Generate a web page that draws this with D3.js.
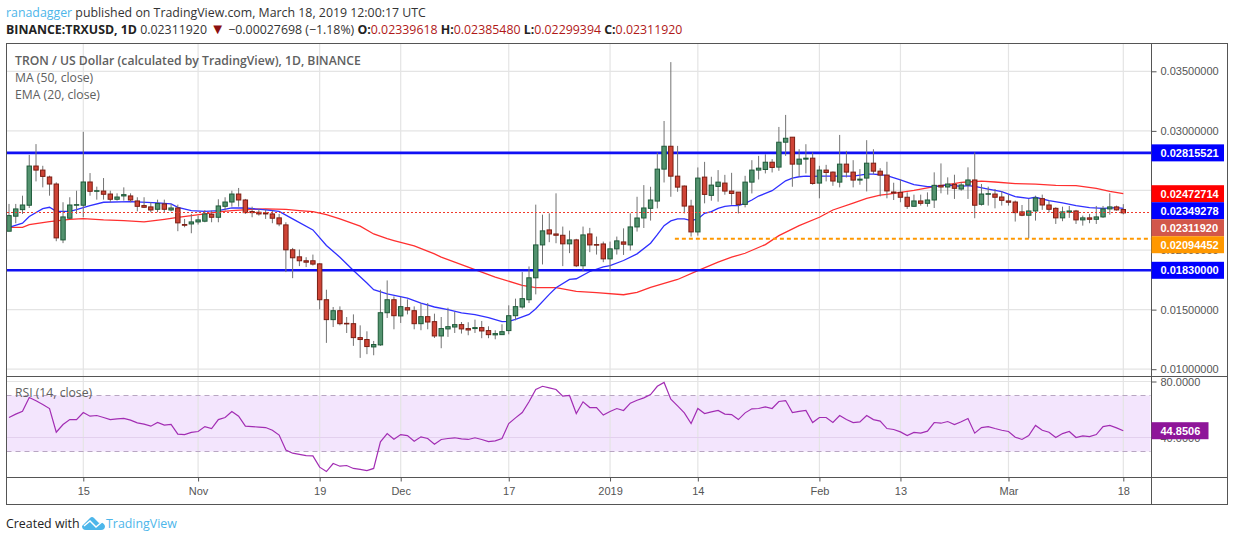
<!DOCTYPE html>
<html>
<head>
<meta charset="utf-8">
<title>TRXUSD</title>
<script src="https://cdn.jsdelivr.net/npm/d3@7"></script>
<style>
  html, body { margin: 0; padding: 0; background: #fff; }
  svg { display: block; }
  text { font-family: "Liberation Sans", Arial, sans-serif; }
  .head text, text.head { font-family: "Open Sans", sans-serif; }
</style>
</head>
<body>
<div id="my_chart"></div>
<script>
// Daily candles, index 0 = 4 Oct 2018, index 165 = 18 Mar 2019
const opens = [0.02158,0.02284,0.02339,0.02376,0.02705,0.02671,0.02613,0.02554,0.02085,0.02267,
  0.02376,0.02376,0.02571,0.02493,0.02495,0.02470,0.02426,0.02454,0.02454,0.02412,
  0.02373,0.02362,0.02342,0.02387,0.02336,0.02353,0.02214,0.02219,0.02236,0.02242,
  0.02300,0.02275,0.02367,0.02403,0.02470,0.02420,0.02323,0.02317,0.02311,0.02303,
  0.02270,0.02211,0.02002,0.01943,0.01910,0.01910,0.01884,0.01583,0.01416,0.01491,
  0.01385,0.01382,0.01265,0.01249,0.01187,0.01204,0.01474,0.01583,0.01447,0.01516,
  0.01491,0.01382,0.01441,0.01399,0.01279,0.01338,0.01354,0.01374,0.01341,0.01341,
  0.01349,0.01324,0.01288,0.01290,0.01324,0.01449,0.01522,0.01583,0.01767,0.02043,
  0.02169,0.02135,0.02124,0.02052,0.02085,0.01868,0.02135,0.02046,0.02051,0.01926,
  0.02010,0.02068,0.02043,0.02194,0.02269,0.02350,0.02411,0.02679,0.02871,0.02620,
  0.02537,0.02369,0.02152,0.02612,0.02459,0.02534,0.02562,0.02495,0.02486,0.02383,
  0.02570,0.02671,0.02676,0.02737,0.02696,0.02905,0.02947,0.02721,0.02763,0.02771,
  0.02562,0.02671,0.02654,0.02570,0.02721,0.02654,0.02587,0.02604,0.02729,0.02662,
  0.02629,0.02487,0.02484,0.02443,0.02367,0.02412,0.02392,0.02420,0.02543,0.02529,
  0.02551,0.02512,0.02546,0.02588,0.02384,0.02468,0.02470,0.02445,0.02412,0.02403,
  0.02320,0.02292,0.02328,0.02431,0.02378,0.02350,0.02270,0.02317,0.02328,0.02253,
  0.02270,0.02258,0.02278,0.02345,0.02362,0.02340]
const highs = [0.02387,0.02387,0.02456,0.02799,0.02889,0.02707,0.02624,0.02568,0.02401,0.02443,
  0.02498,0.02992,0.02646,0.02532,0.02604,0.02498,0.02476,0.02526,0.02476,0.02443,
  0.02443,0.02401,0.02423,0.02423,0.02387,0.02381,0.02261,0.02303,0.02289,0.02336,
  0.02331,0.02426,0.02443,0.02498,0.02521,0.02429,0.02364,0.02345,0.02345,0.02331,
  0.02303,0.02233,0.02018,0.02004,0.01940,0.01962,0.01890,0.01667,0.01522,0.01527,
  0.01438,0.01460,0.01368,0.01318,0.01237,0.01667,0.01745,0.01611,0.01606,0.01586,
  0.01527,0.01553,0.01555,0.01466,0.01438,0.01516,0.01480,0.01396,0.01394,0.01416,
  0.01405,0.01360,0.01327,0.01377,0.01536,0.01592,0.01815,0.01862,0.02381,0.02297,
  0.02308,0.02476,0.02197,0.02163,0.02094,0.02197,0.02186,0.02113,0.02071,0.02071,
  0.02113,0.02182,0.02308,0.02447,0.02545,0.02531,0.02818,0.03083,0.03577,0.02874,
  0.02542,0.02422,0.02693,0.02740,0.02615,0.02671,0.02631,0.02648,0.02486,0.02623,
  0.02754,0.02790,0.02804,0.02763,0.03033,0.03134,0.02947,0.02846,0.02888,0.02818,
  0.02707,0.02715,0.02659,0.02966,0.02832,0.02754,0.02679,0.02922,0.02846,0.02687,
  0.02741,0.02565,0.02596,0.02484,0.02465,0.02465,0.02484,0.02652,0.02727,0.02610,
  0.02632,0.02568,0.02694,0.02819,0.02554,0.02532,0.02512,0.02493,0.02465,0.02415,
  0.02378,0.02429,0.02456,0.02465,0.02415,0.02359,0.02364,0.02370,0.02337,0.02289,
  0.02303,0.02370,0.02370,0.02476,0.02373,0.02385]
const lows = [0.02158,0.02225,0.02303,0.02353,0.02576,0.02526,0.02456,0.02074,0.02058,0.02261,
  0.02303,0.02275,0.02456,0.02423,0.02423,0.02401,0.02415,0.02415,0.02401,0.02325,
  0.02353,0.02317,0.02317,0.02317,0.02325,0.02158,0.02191,0.02141,0.02214,0.02233,
  0.02233,0.02233,0.02331,0.02364,0.02364,0.02303,0.02275,0.02289,0.02261,0.02225,
  0.02200,0.01815,0.01764,0.01865,0.01857,0.01870,0.01502,0.01221,0.01354,0.01368,
  0.01304,0.01196,0.01095,0.01126,0.01117,0.01196,0.01430,0.01335,0.01388,0.01460,
  0.01335,0.01327,0.01335,0.01262,0.01176,0.01271,0.01304,0.01299,0.01285,0.01304,
  0.01260,0.01260,0.01251,0.01290,0.01293,0.01410,0.01508,0.01555,0.01628,0.01879,
  0.02066,0.02057,0.01865,0.01974,0.01857,0.01823,0.01982,0.01962,0.01898,0.01828,
  0.01962,0.01959,0.01996,0.02155,0.02185,0.02247,0.02350,0.02567,0.02447,0.02489,
  0.02308,0.02113,0.02121,0.02392,0.02414,0.02406,0.02464,0.02380,0.02308,0.02358,
  0.02475,0.02592,0.02643,0.02651,0.02665,0.02790,0.02531,0.02615,0.02643,0.02548,
  0.02434,0.02576,0.02539,0.02526,0.02609,0.02526,0.02548,0.02492,0.02637,0.02450,
  0.02434,0.02420,0.02401,0.02345,0.02364,0.02373,0.02364,0.02353,0.02476,0.02465,
  0.02429,0.02498,0.02429,0.02267,0.02373,0.02373,0.02350,0.02373,0.02373,0.02239,
  0.02284,0.02099,0.02247,0.02337,0.02317,0.02219,0.02242,0.02270,0.02219,0.02205,
  0.02225,0.02219,0.02270,0.02297,0.02331,0.02299]
const closes = [0.02289,0.02345,0.02378,0.02705,0.02671,0.02618,0.02554,0.02102,0.02278,0.02378,
  0.02381,0.02571,0.02493,0.02498,0.02468,0.02426,0.02445,0.02465,0.02420,0.02367,
  0.02359,0.02336,0.02390,0.02342,0.02353,0.02228,0.02208,0.02236,0.02253,0.02303,
  0.02275,0.02370,0.02403,0.02470,0.02420,0.02314,0.02314,0.02303,0.02303,0.02267,
  0.02219,0.02002,0.01935,0.01910,0.01898,0.01882,0.01583,0.01416,0.01491,0.01382,
  0.01380,0.01265,0.01249,0.01190,0.01207,0.01474,0.01583,0.01449,0.01525,0.01497,
  0.01382,0.01441,0.01396,0.01279,0.01341,0.01357,0.01374,0.01338,0.01329,0.01349,
  0.01321,0.01290,0.01299,0.01315,0.01449,0.01525,0.01592,0.01767,0.02043,0.02161,
  0.02135,0.02124,0.02052,0.02085,0.01868,0.02127,0.02043,0.02041,0.01926,0.02010,
  0.02077,0.02049,0.02194,0.02269,0.02353,0.02420,0.02679,0.02871,0.02620,0.02528,
  0.02369,0.02152,0.02604,0.02467,0.02545,0.02570,0.02495,0.02475,0.02383,0.02570,
  0.02671,0.02687,0.02737,0.02693,0.02905,0.02938,0.02721,0.02763,0.02771,0.02559,
  0.02671,0.02651,0.02579,0.02721,0.02654,0.02587,0.02595,0.02729,0.02662,0.02629,
  0.02496,0.02479,0.02443,0.02367,0.02412,0.02392,0.02420,0.02543,0.02529,0.02554,
  0.02518,0.02546,0.02588,0.02376,0.02470,0.02473,0.02443,0.02417,0.02401,0.02314,
  0.02292,0.02328,0.02437,0.02378,0.02342,0.02270,0.02320,0.02328,0.02253,0.02270,
  0.02258,0.02278,0.02345,0.02362,0.02337,0.02312]

// MA (50) and EMA (20) at these candle indexes
const maDays = [0,2,3,6,9,11,14,17,20,23,25,27,29,31,33,36,38,41,43,45,47,49,52,54,56,57,60,63,64,68,72,76,78,81,84,87,91,93,95,97,99,102,105,107,109,112,114,117,120,122,125,127,129,130,131,132,134,137,139,141,142,144,146,149,152,155,158,161,163,165]
const maValues = [0.02191,0.02191,0.02214,0.02239,0.02258,0.02264,0.02253,0.02247,0.02236,0.02258,0.02275,0.02289,0.02303,0.02320,0.02331,0.02342,0.02345,0.02342,0.02331,0.02322,0.02297,0.02261,0.02200,0.02135,0.02096,0.02080,0.02035,0.01968,0.01940,0.01857,0.01773,0.01703,0.01684,0.01684,0.01653,0.01642,0.01625,0.01645,0.01686,0.01720,0.01753,0.01828,0.01898,0.01940,0.01973,0.02046,0.02121,0.02205,0.02275,0.02336,0.02394,0.02433,0.02461,0.02468,0.02475,0.02484,0.02501,0.02532,0.02549,0.02568,0.02571,0.02579,0.02571,0.02557,0.02554,0.02543,0.02540,0.02518,0.02493,0.02473]
const emaDays = [0,2,3,5,6,7,9,10,12,14,18,22,24,25,27,29,31,33,35,38,40,42,45,47,49,51,53,54,56,59,61,63,65,67,69,71,73,74,75,77,78,80,81,83,84,86,88,89,91,93,95,96,97,98,99,100,101,102,103,104,105,106,107,108,109,110,111,112,113,114,115,116,117,118,119,120,123,125,126,127,128,129,130,132,134,136,137,139,141,142,143,145,147,149,151,152,154,156,158,160,162,164,165]
const emaValues = [0.02191,0.02225,0.02281,0.02348,0.02359,0.02325,0.02325,0.02339,0.02373,0.02401,0.02406,0.02395,0.02387,0.02359,0.02331,0.02325,0.02331,0.02353,0.02353,0.02337,0.02325,0.02261,0.02169,0.02038,0.01940,0.01829,0.01723,0.01667,0.01633,0.01597,0.01555,0.01522,0.01500,0.01472,0.01458,0.01433,0.01399,0.01402,0.01419,0.01460,0.01508,0.01628,0.01684,0.01753,0.01759,0.01820,0.01859,0.01870,0.01912,0.01968,0.02057,0.02129,0.02205,0.02244,0.02261,0.02261,0.02247,0.02261,0.02308,0.02322,0.02350,0.02367,0.02372,0.02372,0.02392,0.02420,0.02453,0.02475,0.02498,0.02539,0.02581,0.02604,0.02615,0.02620,0.02618,0.02620,0.02620,0.02620,0.02629,0.02637,0.02637,0.02632,0.02624,0.02588,0.02549,0.02532,0.02532,0.02546,0.02535,0.02540,0.02535,0.02512,0.02490,0.02448,0.02434,0.02443,0.02415,0.02395,0.02373,0.02356,0.02350,0.02356,0.02349]

// RSI (14), one value per candle
const rsiValues = [54.3,56.7,58.8,68.6,66.2,63.6,60.7,43.8,49.3,52.8,
  52.8,57.8,55.2,55.7,54.3,52.8,53.3,53.6,52.4,50.5,
  49.5,48.1,50.7,48.8,49.3,42.4,42.1,43.6,44.3,47.8,
  46.4,52.8,54.3,58.6,55.2,48.1,47.8,47.4,47.1,45.2,
  41.7,31.0,28.8,27.9,27.1,26.9,18.8,15.7,21.4,19.5,
  20.0,17.9,17.2,16.4,17.9,36.9,42.8,38.8,42.1,41.4,
  37.4,40.5,39.3,35.2,38.6,39.3,39.8,39.0,38.6,39.8,
  38.6,37.1,37.6,39.3,50.0,54.0,57.8,65.5,74.3,76.6,
  75.5,74.3,69.5,70.0,57.1,65.5,61.4,61.4,56.0,58.6,
  60.7,59.3,64.5,66.6,68.3,70.7,76.6,79.3,67.4,62.6,
  57.6,50.0,60.7,57.1,58.3,59.3,56.7,56.4,52.8,57.6,
  60.5,60.7,61.9,60.7,65.7,66.4,57.8,58.6,59.3,50.7,
  54.3,54.3,50.7,55.7,52.8,50.7,51.2,55.7,52.8,51.7,
  46.4,45.7,44.0,41.4,43.6,43.1,44.5,50.7,50.2,51.4,
  49.3,51.2,53.6,43.1,47.1,47.8,46.4,45.2,44.3,40.2,
  38.6,41.4,48.6,45.2,43.8,40.0,42.8,44.3,40.0,41.2,
  40.7,42.1,47.8,48.6,46.9,44.85]

// Axis ticks
const dateTicks = [11,28,46,58,74,89,102,120,132,148,165]
const dateLabels = ["15","Nov","19","Dec","17","2019","14","Feb","13","Mar","18"]
const priceTicks = [0.035,0.03,0.025,0.02,0.015,0.01]
const rsiTicks = [80,40]

// Drawn levels
const levels = [0.02815521,0.0183]
const orangeLevel = 0.02094452
const orangeStart = 98.6
const lastClose = 0.0231192
const lastRsi = 44.8506

// Badges on the price axis, top to bottom
const badgeValues = [0.02815521,0.02472714,0.02349278,0.0231192,0.02094452,0.0183]
const badgeColors = ["#0000ff","#ff0000","#0000ff","#d2574a","#ff9800","#0000ff"]

const width = 1234, height = 541
const left = 6.5, right = 1151.5, outer = 1227.5
const top_ = 43.5, split = 376.5, bottom = 477.5, foot = 504.5

const svg = d3.select("#my_chart").append("svg")
  .attr("width", width)
  .attr("height", height)

const x = d3.scaleLinear().domain([0,165]).range([9,1123.3])
const y = d3.scaleLinear().domain([0.01,0.035]).range([369.2,71.3])
const yRsi = d3.scaleLinear().domain([40,80]).range([437.5,381.5])

const fmtPrice = d3.format(".8f")
const priceGrey = "#555"

svg.append("clipPath").attr("id","priceClip").append("rect")
  .attr("x",left).attr("y",top_).attr("width",right-left).attr("height",split-top_)
svg.append("clipPath").attr("id","rsiClip").append("rect")
  .attr("x",left).attr("y",split).attr("width",right-left).attr("height",bottom-split)

// RSI band goes under the grid
svg.append("rect")
  .attr("x",left).attr("width",right-left-1)
  .attr("y",yRsi(70)).attr("height",yRsi(30)-yRsi(70))
  .attr("fill","#f3e5fd")

// Grid lines
const grid = svg.append("g").attr("stroke","#e4e4e4").attr("stroke-width",1.2)
grid.selectAll(".gv").data(dateTicks).join("line")
  .attr("x1",d => x(d)).attr("x2",d => x(d)).attr("y1",top_).attr("y2",bottom)
grid.selectAll(".gh").data(priceTicks).join("line")
  .attr("x1",left).attr("x2",right).attr("y1",d => y(d)).attr("y2",d => y(d))
grid.selectAll(".gr").data(rsiTicks).join("line")
  .attr("x1",left).attr("x2",right).attr("y1",d => yRsi(d)).attr("y2",d => yRsi(d))
  .attr("stroke",d => d == 40 ? "#e3d0ee" : "#e4e4e4")

// Moving averages
const chart = svg.append("g").attr("clip-path","url(#priceClip)")
const priceLine = d3.line().x(d => x(d[0])).y(d => y(d[1]))
chart.append("path").datum(d3.zip(maDays,maValues))
  .attr("d",priceLine).attr("fill","none").attr("stroke","#ff3030").attr("stroke-width",1.3)
chart.append("path").datum(d3.zip(emaDays,emaValues))
  .attr("d",priceLine).attr("fill","none").attr("stroke","#3030ff").attr("stroke-width",1.3)

// Horizontal levels sit under the candles
chart.selectAll(".level").data(levels).join("line")
  .attr("x1",left).attr("x2",right).attr("y1",d => y(d)).attr("y2",d => y(d))
  .attr("stroke","#1010f4").attr("stroke-width",2.6)
chart.append("line")
  .attr("x1",x(orangeStart)).attr("x2",right).attr("y1",y(orangeLevel)).attr("y2",y(orangeLevel))
  .attr("stroke","#ff9800").attr("stroke-width",2).attr("stroke-dasharray","4 3")

// Candles
const idx = d3.range(opens.length)
chart.selectAll(".wick").data(idx).join("line")
  .attr("x1",d => x(d)).attr("x2",d => x(d))
  .attr("y1",d => y(highs[d])).attr("y2",d => y(lows[d]))
  .attr("stroke","#737373").attr("stroke-width",1)
chart.selectAll(".body").data(idx).join("rect")
  .attr("x",d => x(d)-2.2)
  .attr("width",4.4)
  .attr("y",d => y(Math.max(opens[d],closes[d])))
  .attr("height",d => Math.max(0.6,Math.abs(y(opens[d])-y(closes[d]))))
  .attr("fill",d => closes[d] >= opens[d] ? "#53936f" : "#cf4436")
  .attr("stroke",d => closes[d] >= opens[d] ? "#1e5a39" : "#7b1d12")
  .attr("stroke-width",1)

// Last close, dotted, in front of the candles
chart.append("line")
  .attr("x1",7).attr("x2",right).attr("y1",y(lastClose)).attr("y2",y(lastClose))
  .attr("stroke","#f0392b").attr("stroke-dasharray","2 2")
  .style("shape-rendering","crispEdges")

// RSI pane
const rsiPane = svg.append("g").attr("clip-path","url(#rsiClip)")
rsiPane.selectAll(".band").data([70,30]).join("line")
  .attr("x1",left).attr("x2",right-1).attr("y1",d => yRsi(d)).attr("y2",d => yRsi(d))
  .attr("stroke","#b8a6c2").attr("stroke-dasharray","5 4")
rsiPane.append("path").datum(rsiValues)
  .attr("d",d3.line().x((d,i) => x(i)).y(d => yRsi(d)))
  .attr("fill","none").attr("stroke","#a22db3").attr("stroke-width",1.2)

// Axes
const styleAxis = g => {
  g.select(".domain").remove()
  g.selectAll("text").attr("fill",priceGrey).style("font-size","11px")
  g.selectAll("line").attr("stroke",priceGrey)
}
// 0.025 has no readable label, the red badge covers that spot
svg.append("g").attr("transform",`translate(${right},0)`)
  .call(d3.axisRight(y).tickValues(priceTicks).tickFormat(d => d == 0.025 ? "" : fmtPrice(d)).tickSize(5).tickPadding(4))
  .call(styleAxis)
svg.append("g").attr("transform",`translate(${right},0)`)
  .call(d3.axisRight(yRsi).tickValues(rsiTicks).tickFormat(d3.format(".4f")).tickSize(5).tickPadding(4))
  .call(styleAxis)
svg.append("g").attr("transform",`translate(0,${bottom})`)
  .call(d3.axisBottom(x).tickValues(dateTicks).tickFormat((d,i) => dateLabels[i]).tickSize(4).tickPadding(6))
  .call(styleAxis)

// Frame and pane separators
svg.append("rect")
  .attr("x",left).attr("y",top_).attr("width",outer-left).attr("height",foot-top_)
  .attr("fill","none").attr("stroke","#555")
svg.selectAll(".sep").data([split,bottom]).join("line")
  .attr("x1",left).attr("x2",outer).attr("y1",d => d).attr("y2",d => d)
  .attr("stroke","#555")
svg.append("line")
  .attr("x1",right).attr("x2",right).attr("y1",top_).attr("y2",foot)
  .attr("stroke","#555")

// Axis badges, pushed down when they would overlap
let prevY = -100
const badgeY = badgeValues.map(v => {
  prevY = Math.max(y(v),prevY+17)
  return prevY
})
const badges = svg.selectAll(".badge").data(badgeValues).join("g")
  .attr("transform",(d,i) => `translate(${right},${badgeY[i]})`)
badges.append("rect")
  .attr("x",0).attr("y",-8.5).attr("width",72.5).attr("height",17)
  .attr("fill",(d,i) => badgeColors[i])
badges.append("text")
  .attr("x",9).attr("dy","0.35em")
  .attr("fill","#fff").style("font-size","11px").style("font-weight","bold")
  .text(d => fmtPrice(d))
const rsiBadge = svg.append("g").attr("transform",`translate(${right},${yRsi(lastRsi)})`)
rsiBadge.append("rect")
  .attr("x",0).attr("y",-8.5).attr("width",57).attr("height",17).attr("fill","#8e1599")
rsiBadge.append("text")
  .attr("x",9).attr("dy","0.35em")
  .attr("fill","#fff").style("font-size","11px").style("font-weight","bold")
  .text(lastRsi.toFixed(4))

// Pane legends
const legend = svg.append("g").attr("class","head").attr("fill","#606060").style("font-size","12.2px")
legend.append("text").attr("x",15).attr("y",65).style("font-weight","600")
  .text("TRON / US Dollar (calculated by TradingView), 1D, BINANCE")
legend.append("text").attr("x",15).attr("y",82).text("MA (50, close)")
legend.append("text").attr("x",15).attr("y",99).text("EMA (20, close)")
legend.append("text").attr("x",15).attr("y",397).text("RSI (14, close)")

// Published line
const head = svg.append("g").attr("class","head").style("font-size","12.35px").attr("fill","#333")
const line1 = head.append("text").attr("x",6).attr("y",17)
line1.append("tspan").attr("fill","#4db6ea").text("ranadagger")
line1.append("tspan").text(" published on TradingView.com, March 18, 2019 12:00:17 UTC")
const line2 = head.append("text").attr("x",6).attr("y",34)
line2.append("tspan").style("font-weight","700").attr("fill","#222").text("BINANCE:TRXUSD, 1D")
line2.append("tspan").text("  0.02311920 ")
line2.append("tspan").attr("fill","#8b1010").style("font-size","15px").text("▼")
line2.append("tspan").text(" −0.00027698 (−1.18%) ")
const ohlc = [["O:","0.02339618"],["H:","0.02385480"],["L:","0.02299394"],["C:","0.02311920"]]
ohlc.forEach(d => {
  line2.append("tspan").style("font-weight","700").attr("fill","#222").text(d[0])
  line2.append("tspan").attr("fill","#b01818").text(d[1] + " ")
})

// Footer
const footer = svg.append("g").attr("class","head").style("font-size","12.4px")
footer.append("text").attr("x",6).attr("y",528).attr("fill","#222").text("Created with")
footer.append("path")
  .attr("d","M82 526 L90 518 Q92 516 94 518 L99 523 Q103 521 105 526 Q105 530 101 530 L86 530 Q82 530 82 526 Z")
  .attr("fill","#4db6ea")
footer.append("path")
  .attr("d","M84 526 L90 521 L96 527 L103 521")
  .attr("fill","none").attr("stroke","#fff").attr("stroke-width",1.4)
footer.append("text").attr("x",106).attr("y",528).attr("fill","#4db6ea").text("TradingView")
</script>
</body>
</html>
